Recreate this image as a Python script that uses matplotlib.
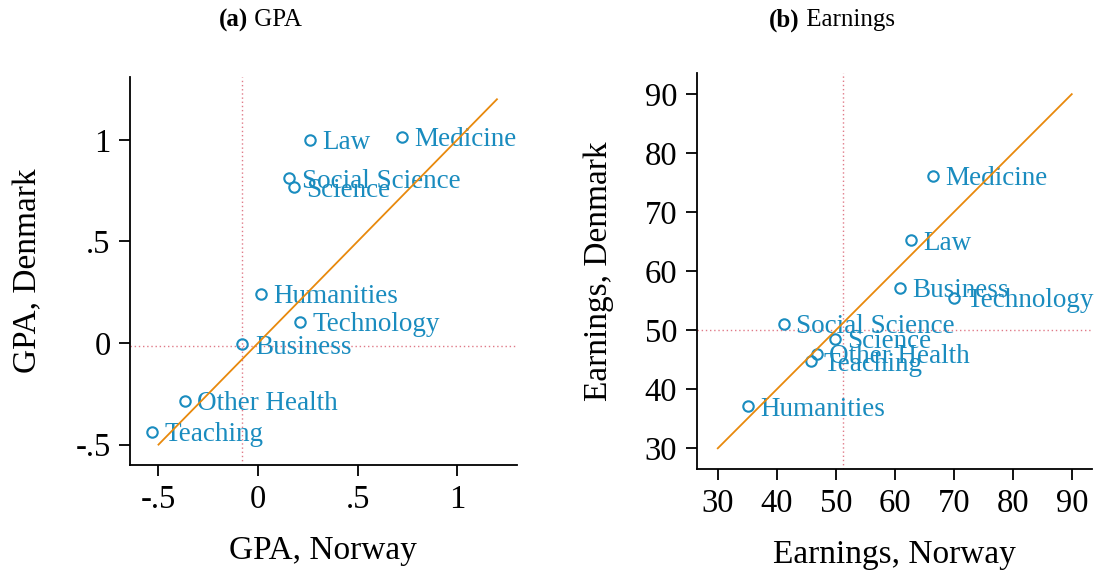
import numpy as np
import matplotlib
matplotlib.use("Agg")
import matplotlib.pyplot as plt

plt.rcParams['font.family'] = ['Liberation Serif', 'DejaVu Serif']

BLUE = '#1a8cbf'
ORANGE = '#e8890c'
REF = '#e07a88'

# panel (a): GPA
gpa_fields = ['Law', 'Medicine', 'Social Science', 'Science', 'Humanities',
              'Technology', 'Business', 'Other Health', 'Teaching']
gpa_norway = [0.261, 0.722, 0.157, 0.181, 0.013, 0.211, -0.079, -0.367, -0.534]
gpa_denmark = [1.00, 1.016, 0.811, 0.767, 0.241, 0.105, -0.006, -0.284, -0.437]
gpa_ref_x = -0.079
gpa_ref_y = -0.015
gpa_diag = [-0.5, 1.2]
gpa_ticks = [-0.5, 0, 0.5, 1]
gpa_ticklabels = ['-.5', '0', '.5', '1']

# panel (b): Earnings
earn_fields = ['Medicine', 'Law', 'Business', 'Technology', 'Social Science',
               'Science', 'Other Health', 'Teaching', 'Humanities']
earn_norway = [66.4, 62.7, 60.9, 70.1, 41.2, 49.8, 46.8, 45.8, 35.1]
earn_denmark = [76.2, 65.25, 57.2, 55.5, 51.1, 48.6, 46.05, 44.75, 37.1]
earn_ref_x = 51.2
earn_ref_y = 50.0
earn_diag = [30, 90]
earn_ticks = [30, 40, 50, 60, 70, 80, 90]

fig = plt.figure(figsize=(10.99, 5.74), dpi=100)
ax1 = fig.add_axes([0.1183, 0.190, 0.352, 0.676])
ax2 = fig.add_axes([0.634, 0.183, 0.360, 0.690])


def draw(ax, xs, ys, names, rx, ry, diag):
    ax.axvline(rx, color=REF, lw=1, ls=(0, (1, 2)), zorder=1)
    ax.axhline(ry, color=REF, lw=1, ls=(0, (1, 2)), zorder=1)
    ax.plot(xs, ys, 'o', ms=7.5, mfc='none', mec=BLUE, mew=1.5, zorder=3)
    for x, y, n in zip(xs, ys, names):
        ax.annotate(n, (x, y), xytext=(9, -2), textcoords='offset points',
                    color=BLUE, fontsize=19.5, va='center', ha='left', zorder=3)
    ax.plot(diag, diag, color=ORANGE, lw=1.3, zorder=4)
    for s in ['top', 'right']:
        ax.spines[s].set_visible(False)
    for s in ['left', 'bottom']:
        ax.spines[s].set_linewidth(1.3)
    ax.tick_params(length=8, width=1.3, labelsize=23.5, pad=6)


draw(ax1, gpa_norway, gpa_denmark, gpa_fields, gpa_ref_x, gpa_ref_y, gpa_diag)
ax1.set_xlim(-0.643, 1.30)
ax1.set_ylim(-0.60, 1.31)
ax1.set_xticks(gpa_ticks)
ax1.set_xticklabels(gpa_ticklabels)
ax1.set_yticks(gpa_ticks)
ax1.set_yticklabels(gpa_ticklabels)
ax1.set_xlabel('GPA, Norway', fontsize=24, labelpad=15)
ax1.set_ylabel('GPA, Denmark', fontsize=24, labelpad=23)

draw(ax2, earn_norway, earn_denmark, earn_fields, earn_ref_x, earn_ref_y, earn_diag)
ax2.set_xlim(26.44, 93.5)
ax2.set_ylim(26.5, 93.6)
ax2.set_xticks(earn_ticks)
ax2.set_yticks(earn_ticks)
ax2.set_xlabel('Earnings, Norway', fontsize=24, labelpad=15)
ax2.set_ylabel('Earnings, Denmark', fontsize=24, labelpad=22)

fig.text(248 / 1099, 1 - 20 / 574, '(a)', fontsize=18, fontweight='bold', ha='right', va='center')
fig.text(248 / 1099, 1 - 20 / 574, ' GPA', fontsize=18, ha='left', va='center')
fig.text(800 / 1099, 1 - 20 / 574, '(b)', fontsize=18, fontweight='bold', ha='right', va='center')
fig.text(800 / 1099, 1 - 20 / 574, ' Earnings', fontsize=18, ha='left', va='center')

fig.savefig('out.png', dpi=100)
